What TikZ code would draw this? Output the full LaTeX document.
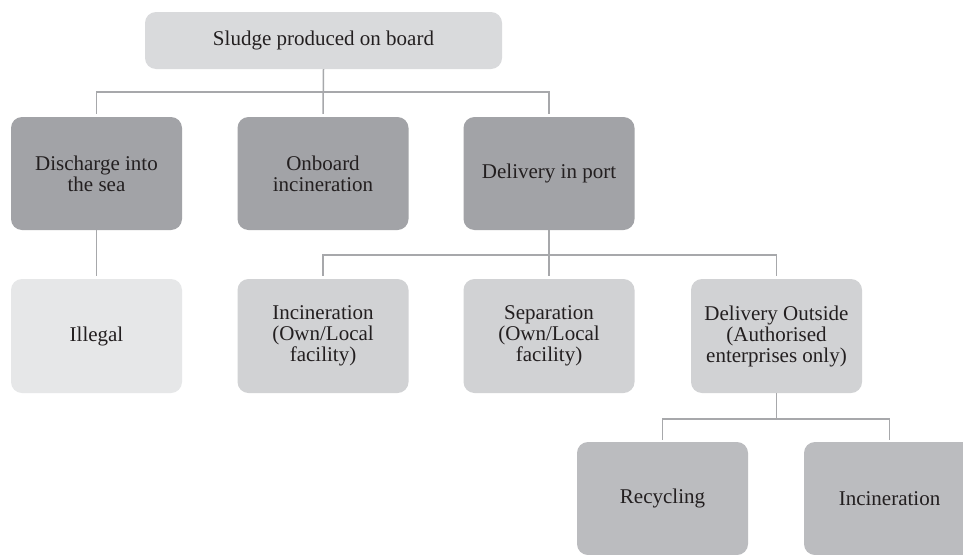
\documentclass[tikz,border=0pt]{standalone}
\usepackage{fontspec}
\setmainfont{Liberation Serif}
\definecolor{topc}{HTML}{D9DADC}
\definecolor{darkc}{HTML}{A2A3A7}
\definecolor{palec}{HTML}{E6E7E8}
\definecolor{midc}{HTML}{D1D2D4}
\definecolor{lowc}{HTML}{BBBCBF}
\definecolor{linec}{HTML}{A7A8AB}
\definecolor{txtc}{HTML}{231F20}
\tikzset{
  box/.style={rounded corners=11pt, minimum width=171pt, minimum height=113pt,
    align=center, inner sep=0pt, text=txtc,
    font=\fontsize{21}{21}\selectfont},
  conn/.style={draw=linec, line width=1.5pt}
}
\begin{document}
\begin{tikzpicture}[x=1pt,y=-1pt]
\useasboundingbox (0,0) rectangle (963,554);
\clip (0,0) rectangle (963,554);
\fill[white] (0,0) rectangle (963,554);
% nodes
\node[box, fill=topc, minimum width=357pt, minimum height=57pt] (top) at (323.5,40.5) {Sludge produced on board};
\node[box, fill=darkc] (dis) at (96.5,173.5) {Discharge into\\the sea};
\node[box, fill=darkc] (onb) at (323,173.5) {Onboard\\incineration};
\node[box, fill=darkc] (dip) at (549,173.5) {Delivery in port};
\node[box, fill=palec, minimum height=114pt] (ill) at (96.5,336) {Illegal};
\node[box, fill=midc, minimum height=114pt] (inc) at (323,336) {Incineration\\(Own/Local\\facility)};
\node[box, fill=midc, minimum height=114pt] (sep) at (549,336) {Separation\\(Own/Local\\facility)};
\node[box, fill=midc, minimum height=114pt] (dout) at (776.5,336) {Delivery Outside\\(Authorised\\enterprises only)};
\node[box, fill=lowc] (rec) at (662.5,498.5) {Recycling};
\node[box, fill=lowc] (inc2) at (889.5,498.5) {Incineration};
% connectors
\draw[conn] (top.south) -- ([yshift=3pt]onb.north);
\draw[conn] ([yshift=3pt]dis.north) |- (323,92) -| ([yshift=3pt]dip.north);
\draw[conn] (dis.south) -- ([yshift=3pt]ill.north);
\draw[conn] (dip.south) -- (dip.south |- 0,255);
\draw[conn] ([yshift=3pt]inc.north) |- (549,255) -| ([yshift=3pt]dout.north);
\draw[conn] (sep.north) ++(0,-3) -- (dip.south |- 0,255);
\draw[conn] (dout.south) -- (dout.south |- 0,419);
\draw[conn] ([yshift=2pt]rec.north) |- (776.5,419) -| ([yshift=2pt]inc2.north);
\end{tikzpicture}
\end{document}
